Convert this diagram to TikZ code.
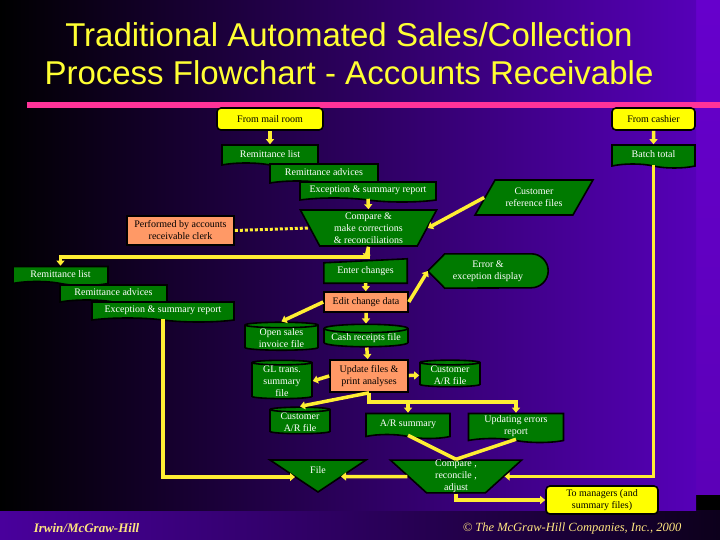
\documentclass[tikz,border=0pt]{standalone}
\usepackage{fontspec}
\setmainfont{Liberation Serif}
\newfontfamily\headfont{Liberation Sans}
\usetikzlibrary{shapes.geometric,shapes.symbols,arrows.meta}
\definecolor{boxgreen}{HTML}{007A00}
\definecolor{boxsalmon}{HTML}{FF9966}
\definecolor{boxyellow}{HTML}{FFFF00}
\definecolor{lineyellow}{HTML}{FFEE33}
\definecolor{titleyellow}{HTML}{FFFF33}
\definecolor{footyellow}{HTML}{FFE680}
\definecolor{panelpurple}{HTML}{5600B8}
\definecolor{stripurple}{HTML}{6600CC}
\definecolor{rulepink}{HTML}{FF3399}
\newcommand\boxfont{\fontsize{10}{12}\selectfont}
\pgfdeclarelayer{back}
\pgfdeclarelayer{shapes}
\pgfsetlayers{back,shapes,main}

\begin{document}
\begin{tikzpicture}[x=1pt, y=-1pt,
  docbox/.style={tape, tape bend top=none, tape bend bottom=out and in, tape bend height=4pt, draw=black, line width=1.6pt, fill=boxgreen, text=white, font=\boxfont, align=center, inner sep=1pt},
  termbox/.style={rectangle, rounded corners=4pt, draw=black, line width=1.6pt, fill=boxyellow, text=black, font=\boxfont, align=center, inner sep=1pt},
  procbox/.style={rectangle, draw=black, line width=1.6pt, fill=boxsalmon, text=black, font=\boxfont, align=center, inner sep=1pt},
  manop/.style={trapezium, trapezium stretches=true, shape border rotate=180, draw=black, line width=1.6pt, fill=boxgreen, text=white, font=\boxfont, align=center, inner sep=0pt},
  iobox/.style={trapezium, trapezium stretches=true, trapezium left angle=52, trapezium right angle=128, draw=black, line width=1.6pt, fill=boxgreen, text=white, font=\boxfont, align=center, inner sep=0pt},
  diskbox/.style={cylinder, shape border rotate=90, aspect=0.12, draw=black, line width=1.6pt, fill=boxgreen, text=white, font=\boxfont, align=center, inner sep=0pt},
  textonly/.style={text=white, font=\boxfont, align=center, inner sep=0pt},
  shapeline/.style={draw=black, line width=1.6pt, fill=boxgreen},
  arr/.style={-{Triangle[length=5pt,width=8pt]}, line width=3.5pt, lineyellow},
  link/.style={line width=3.5pt, lineyellow},
  dotlink/.style={line width=3pt, lineyellow, dash pattern=on 3pt off 2pt}
]
  \useasboundingbox (0,0) rectangle (720,540);

  % slide background
  \begin{pgfonlayer}{back}
    \fill[black] (0,0) rectangle (720,540);
    \shade[left color=panelpurple!85!black, right color=black!85!panelpurple] (0,510) rectangle (720,540);
    \shade[top color=stripurple, bottom color=stripurple!90!black] (696,0) rectangle (720,494);
    \shade[left color=black, middle color=panelpurple!55!black, right color=panelpurple] (0,0) rectangle (696,510);
    \draw[rulepink, line width=6pt] (27,105) -- (720,105);
  \end{pgfonlayer}

  \node[titleyellow, font=\headfont\fontsize{33}{38}\selectfont, align=center] (title) at (349,54) {Traditional Automated Sales/Collection\\Process Flowchart - Accounts Receivable};

  % sources
  \node[termbox, minimum width=106pt, minimum height=22pt] (mail) at (270,119) {From mail room};
  \node[termbox, minimum width=83pt, minimum height=22pt] (cashier) at (653.5,119) {From cashier};

  % first batch of documents
  \node[docbox, minimum width=96pt, minimum height=22pt] (remlistA) at (270,154) {Remittance list};
  \node[docbox, minimum width=83pt, minimum height=23pt] (batch) at (653.5,154.5) {Batch total};
  \node[docbox, minimum width=108pt, minimum height=21pt] (remadvA) at (324,172.5) {Remittance advices};
  \node[docbox, minimum width=136pt, minimum height=20pt] (excrepA) at (368,190) {Exception \& summary report};
  \node[iobox, minimum width=118pt, minimum height=35pt] (custref) at (534,197.5) {Customer\\reference files};
  \node[manop, trapezium left angle=66, trapezium right angle=66, minimum width=137pt, minimum height=36pt] (compareA) at (368.5,228) {Compare \&\\make corrections\\\& reconciliations};
  \node[procbox, minimum width=107pt, minimum height=29pt] (clerk) at (180.5,230.5) {Performed by accounts\\receivable clerk};

  % second batch of documents
  \node[docbox, minimum width=95pt, minimum height=19pt] (remlistB) at (60.5,274) {Remittance list};
  \node[docbox, minimum width=107pt, minimum height=19pt] (remadvB) at (113.5,292.5) {Remittance advices};
  \node[docbox, minimum width=142pt, minimum height=20pt] (excrepB) at (163,310) {Exception \& summary report};

  % data entry
  \node[textonly, minimum width=83pt, minimum height=24pt] (enter) at (365.5,271) {Enter changes};
  \node[textonly, minimum width=86pt, minimum height=34pt] (err) at (488,271) {Error \&\\exception display};
  \coordinate (errtip) at ([xshift=-17pt]err.west);
  \node[procbox, minimum width=84pt, minimum height=20pt] (edit) at (366,302) {Edit change data};

  % files and update run
  \node[diskbox, minimum width=73pt, minimum height=25pt] (opensales) at (281.5,338) {Open sales\\invoice file};
  \node[diskbox, minimum width=84pt, minimum height=19pt] (cash) at (366,338) {Cash receipts file};
  \node[diskbox, minimum width=60pt, minimum height=38pt] (gltrans) at (282,381) {GL trans.\\summary\\file};
  \node[procbox, minimum width=78pt, minimum height=32pt] (update) at (369,376) {Update files \&\\print analyses};
  \node[diskbox, minimum width=60pt, minimum height=26pt] (custarA) at (450,375) {Customer\\A/R file};
  \node[diskbox, minimum width=60pt, minimum height=24pt] (custarB) at (300,422) {Customer\\A/R file};
  \node[docbox, minimum width=84pt, minimum height=25pt] (arsum) at (408,424) {A/R summary};
  \node[docbox, minimum width=95pt, minimum height=29pt] (upderr) at (516,426) {Updating errors\\report};

  % reconciliation and output
  \node[textonly] (file) at (318,470) {File};
  \coordinate (fileL) at (295,477);
  \coordinate (fileR) at (341,476.5);
  \node[manop, trapezium left angle=52, trapezium right angle=52, minimum width=132pt, minimum height=31pt] (compareB) at (456,476.5) {Compare ,\\reconcile ,\\adjust};
  \node[termbox, minimum width=112pt, minimum height=28pt] (managers) at (602,500) {To managers (and\\summary files)};

  % outlines of the odd shapes
  \begin{pgfonlayer}{shapes}
    \draw[shapeline] (enter.south west) -- ([yshift=-4pt]enter.north west) -- (enter.north east) -- (enter.south east) -- cycle;
    \draw[shapeline] (errtip) -- (err.north west) -- (err.north east) arc[start angle=-90, end angle=90, radius=17] -- (err.south west) -- cycle;
    \draw[shapeline] (270,460) -- (366,460) -- (318,492) -- cycle;
  \end{pgfonlayer}

  % flow lines
  \draw[arr] (mail) -- (remlistA);
  \draw[arr] (cashier) -- (batch);
  \draw[arr] (excrepA.south) -- (compareA.north);
  \draw[arr] (custref.west) -- (compareA.east);
  \draw[dotlink] (clerk.east) -- (compareA.west);
  \draw[arr] (compareA.south) -- ++(0,10) -| (remlistB.north);
  \draw[arr] (compareA.south) -- (enter.north);
  \draw[arr] (enter) -- (edit);
  \draw[arr] (edit.east) -- (errtip);
  \draw[arr] (edit.west) -- (opensales.north);
  \draw[arr] (edit) -- (cash);
  \draw[arr] (cash) -- (update);
  \draw[arr] (update.west) -- (gltrans.east);
  \draw[arr] (update) -- (custarA);
  \draw[arr] (update.south) -- (custarB.north);
  \draw[arr] (update.south) -- ++(0,9) -| (upderr.north);
  \draw[arr] ([yshift=-9pt]update.south) -| (arsum.north);
  \draw[link] (arsum.south) -- (compareB.north);
  \draw[link] (upderr.south) -- (compareB.north);
  \draw[arr] (batch.south) |- (compareB.east);
  \draw[arr] (compareB.west) -- (fileR);
  \draw[arr] (excrepB.south) |- (fileL);
  \draw[arr] (compareB.south) |- (managers.west);

  % footer
  \node[footyellow, font=\fontsize{13}{15}\selectfont\bfseries\itshape] (publisher) at (86.5,528) {Irwin/McGraw-Hill};
  \node[footyellow, font=\fontsize{12.5}{15}\selectfont\itshape] (copyright) at (572,528) {© The McGraw-Hill Companies, Inc., 2000};
\end{tikzpicture}
\end{document}
